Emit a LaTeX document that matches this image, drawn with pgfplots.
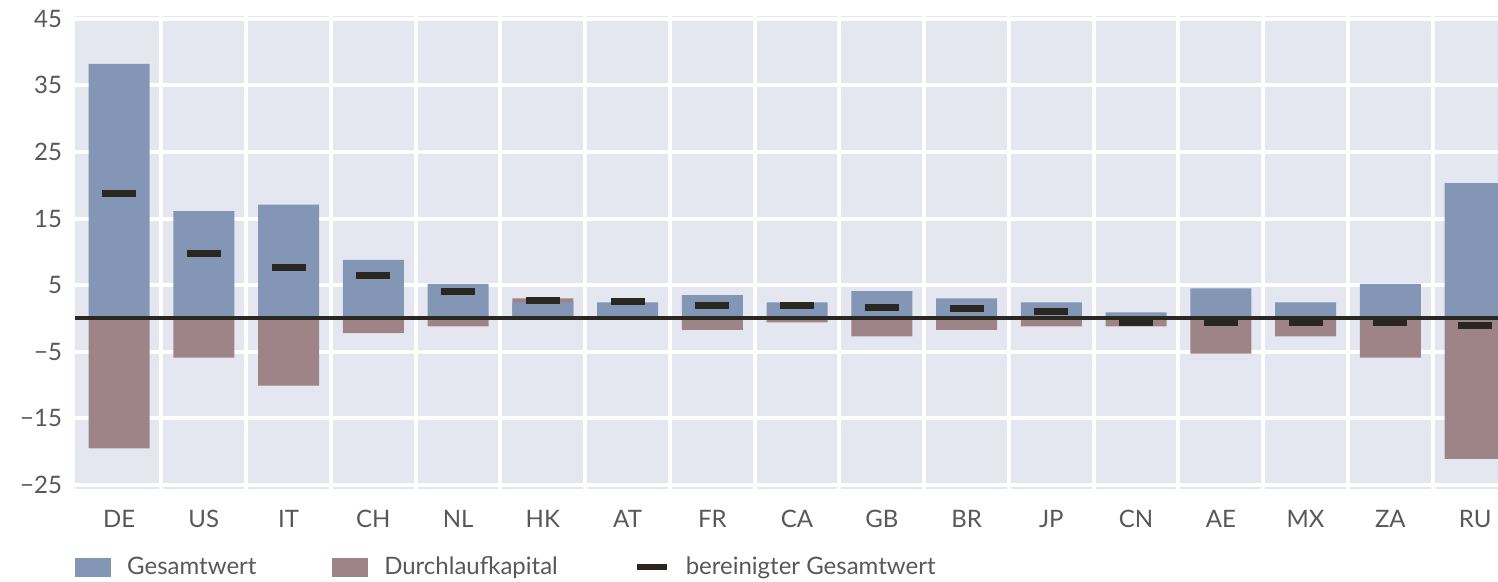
\documentclass[border=0pt]{standalone}
\usepackage{fontspec}
\setmainfont{Lato}
\usepackage{pgfplots}
\usepackage{pgfplotstable}
\pgfplotsset{compat=1.18}
\definecolor{bg}{HTML}{E4E7F0}
\definecolor{gw}{HTML}{8396B5}
\definecolor{dk}{HTML}{9E8487}
\definecolor{bk}{HTML}{2A2721}
\definecolor{txt}{HTML}{585858}
\pgfplotstableread{
x gw dk adj
0 38.2 -19.5 18.8
1 16.1 -5.9 9.8
2 17.1 -10.1 7.6
3 8.8 -2.2 6.5
4 5.2 -1.2 4.1
5 2.4 3.0 2.7
6 2.4 0 2.5
7 3.5 -1.7 2.0
8 2.4 -0.6 2.0
9 4.1 -2.7 1.7
10 3.0 -1.7 1.5
11 2.4 -1.2 1.1
12 0.9 -1.2 -0.6
13 4.5 -5.3 -0.6
14 2.4 -2.7 -0.6
15 5.2 -5.9 -0.6
16 20.3 -21.1 -1.0
}\data
\begin{document}
\begin{tikzpicture}
\begin{axis}[
  scale only axis,
  width=711.5pt, height=236.5pt,
  xmin=-0.52, xmax=16.27,
  ymin=-25.6, ymax=45.4,
  axis line style={draw=none},
  axis background/.style={fill=bg},
  major tick length=0pt, minor tick length=0pt,
  xtick={0,...,16},
  xticklabels={DE,US,IT,CH,NL,HK,AT,FR,CA,GB,BR,JP,CN,AE,MX,ZA,RU},
  minor xtick={0.5,1.5,...,15.5},
  ytick={-25,-15,-5,5,15,25,35,45},
  yticklabels={−25,−15,−5,5,15,25,35,45},
  xminorgrids, ymajorgrids,
  minor grid style={white, line width=2pt},
  major grid style={white, line width=2pt},
  tick label style={font=\fontsize{12}{14}\selectfont, text=txt},
  xticklabel style={yshift=-7pt},
  yticklabel style={xshift=-3pt},
  legend columns=3,
  legend style={draw=none, fill=none, at={(0.0,-0.165)}, anchor=west,
    font=\fontsize{12}{14}\selectfont, text=txt, inner sep=0pt,
    /tikz/every odd column/.append style={column sep=6pt},
    /tikz/every even column/.append style={column sep=36pt}},
  legend cell align=left,
]
\addlegendimage{legend image code/.code={\fill[gw] (0pt,-4.5pt) rectangle (17.5pt,4.5pt);}}
\addlegendentry{Gesamtwert}
\addlegendimage{legend image code/.code={\fill[dk] (0pt,-4.5pt) rectangle (17.5pt,4.5pt);}}
\addlegendentry{Durchlaufkapital}
\addlegendimage{legend image code/.code={\draw[bk, line width=3pt] (0pt,0pt) -- (15pt,0pt);}}
\addlegendentry{bereinigter Gesamtwert}
\addplot[ybar, bar width=0.72, bar shift=0pt, fill=dk, draw=none, forget plot] table[x=x, y=dk] {\data};
\addplot[ybar, bar width=0.72, bar shift=0pt, fill=gw, draw=none, forget plot] table[x=x, y=gw] {\data};
\addplot[bk, line width=2pt, forget plot] coordinates {(-0.52,0) (16.27,0)};
\addplot[only marks, mark=-, mark size=8.5pt, mark options={bk, line width=3.5pt}, forget plot] table[x=x, y=adj] {\data};
\end{axis}
\pgfresetboundingbox
\path ([xshift=-37.5pt,yshift=-46.5pt]current axis.south west) rectangle ([yshift=8pt]current axis.north east);
\end{tikzpicture}
\end{document}
